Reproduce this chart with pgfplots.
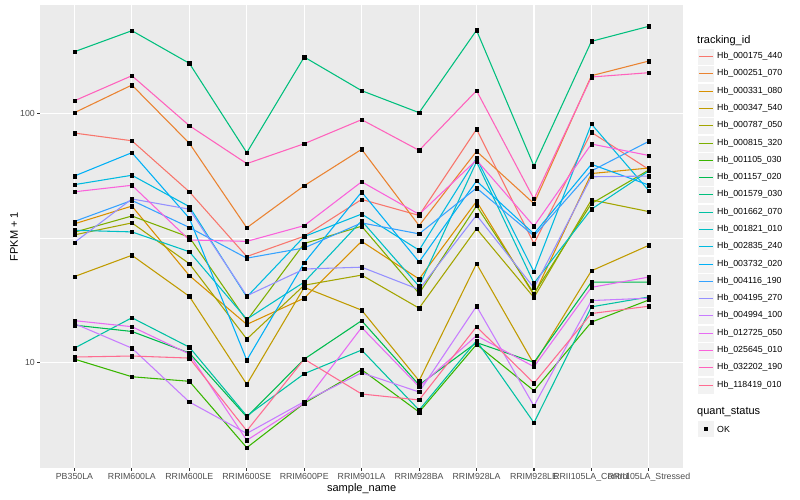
\documentclass[border=0pt]{standalone}
\usepackage{pgfplots}
\usepackage{pgfplotstable}
\usepackage{fontspec}
\setmainfont{Liberation Sans}
\pgfplotsset{compat=1.18}

% ggplot2 hue palette, 20 levels
\definecolor{c1}{HTML}{F8766D}
\definecolor{c2}{HTML}{EA8331}
\definecolor{c3}{HTML}{D89000}
\definecolor{c4}{HTML}{C09B00}
\definecolor{c5}{HTML}{A3A500}
\definecolor{c6}{HTML}{7CAE00}
\definecolor{c7}{HTML}{39B600}
\definecolor{c8}{HTML}{00BB4E}
\definecolor{c9}{HTML}{00BF7D}
\definecolor{c10}{HTML}{00C1A3}
\definecolor{c11}{HTML}{00BFC4}
\definecolor{c12}{HTML}{00BAE0}
\definecolor{c13}{HTML}{00B0F6}
\definecolor{c14}{HTML}{35A2FF}
\definecolor{c15}{HTML}{9590FF}
\definecolor{c16}{HTML}{C77CFF}
\definecolor{c17}{HTML}{E76BF3}
\definecolor{c18}{HTML}{FA62DB}
\definecolor{c19}{HTML}{FF62BC}
\definecolor{c20}{HTML}{FF6C91}
\definecolor{panel}{HTML}{EBEBEB}
\definecolor{keybg}{HTML}{F2F2F2}
\definecolor{tk}{HTML}{333333}
\definecolor{lab}{HTML}{4D4D4D}

\newcommand{\smallfnt}{\fontsize{8.8bp}{10bp}\selectfont}
\newcommand{\bigfnt}{\fontsize{11bp}{13bp}\selectfont}

% FPKM + 1 per sample (rows) and tracking_id (columns s1..s20)
\pgfplotstableread{
x  s1   s2    s3   s4   s5   s6   s7   s8   s9    s10  s11  s12  s13  s14  s15  s16  s17  s18  s19   s20
0  83.3 100.6 36.0 22.1 32.5 33.3 10.3 14.1 176.8 11.4 33.9 51.7 56.0 36.8 30.3 14.3 14.7 48.4 112.3 10.5
1  77.6 129.9 42.4 26.9 36.3 38.7 8.75 13.3 214.7 15.1 33.4 56.4 69.5 44.7 45.3 11.4 13.9 51.4 141.6 10.6
2  48.4 75.8  22.3 18.4 24.9 31.8 8.39 10.9 158.8 11.5 27.8 42.2 37.9 34.8 41.2 6.93 10.8 31.0 89.2  10.4
3  26.6 34.7  14.2 8.16 12.4 14.7 4.54 6.03 69.5  6.09 14.9 18.3 10.2 26.2 18.5 5.18 4.86 30.6 62.8  5.31
4  32.1 51.2  18.1 20.0 20.4 30.0 6.85 10.3 168.3 9.00 21.0 32.0 25.1 28.8 23.7 6.95 6.85 35.4 75.5  10.3
5  45.1 71.7  30.6 16.2 22.4 35.2 9.34 14.7 123.3 11.2 37.0 39.4 48.3 36.3 24.1 9.08 13.8 53.1 94.3  7.46
6  38.9 35.4  21.6 8.43 16.5 18.9 6.31 8.11 100.6 6.43 20.2 28.2 25.3 32.8 19.6 7.60 7.98 39.3 71.0  7.06
7  86.3 70.4  44.3 24.9 34.4 42.5 11.8 12.0 215.5 12.2 63.9 66.0 53.5 50.1 39.0 16.8 12.8 64.9 123.3 13.9
8  30.0 43.4  18.6 9.84 18.2 18.9 7.69 10.0 61.4  5.72 20.8 23.1 32.8 32.2 19.9 6.68 9.60 35.2 45.3  8.24
9  83.9 141.6 57.3 23.3 44.9 43.4 14.5 21.0 194.6 16.7 41.2 90.6 62.4 58.7 55.6 17.7 20.0 75.3 139.9 15.7
10 59.5 162.2 60.3 29.5 40.3 59.2 17.8 21.0 223.6 18.3 58.7 48.9 51.5 77.2 56.0 18.1 22.0 67.7 145.6 16.8
}\data

\begin{document}
\begin{tikzpicture}
\useasboundingbox (0,0) rectangle (800bp,500bp);
\begin{axis}[
    at={(40bp,32bp)}, anchor=south west,
    scale only axis, width=643.3bp, height=463bp,
    xmin=-0.6, xmax=10.6,
    ymode=log, ymin=3.763, ymax=272.3,
    axis background/.style={fill=panel},
    axis line style={draw=none},
    xtick={0,...,10},
    xticklabels={PB350LA, RRIM600LA, RRIM600LE, RRIM600SE, RRIM600PE, RRIM901LA,
        RRIM928BA, RRIM928LA, RRIM928LE, RRII105LA\_Control, RRII105LA\_Stressed},
    ytick={10,100}, yticklabels={10,100},
    minor ytick={31.62},
    xmajorgrids=true, ymajorgrids=true, yminorgrids=true,
    major grid style={white, line width=1.07bp},
    minor grid style={white, line width=0.53bp},
    tick align=outside, tick pos=left,
    major tick length=2.74bp, minor tick length=0pt,
    tick style={color=tk, line width=1.07bp},
    ticklabel style={font=\smallfnt, text=lab},
    xticklabel style={inner sep=2bp},
    yticklabel style={inner sep=2.2bp},
    /pgf/number format/assume math mode=true,
]
\pgfplotsinvokeforeach{1,...,20}{
    \addplot[c#1, line width=1.07bp, mark=none] table[x=x, y=s#1]{\data};
}
\pgfplotsinvokeforeach{1,...,20}{
    \addplot[only marks, mark=square*, mark size=1.7bp, black] table[x=x, y=s#1]{\data};
}
\end{axis}

% axis titles
\node[font=\bigfnt, rotate=90] at (14bp,263.5bp) {FPKM + 1};
\node[font=\bigfnt] at (361.65bp,11bp) {sample\_name};

% legend: tracking_id
\node[font=\bigfnt, anchor=west, inner sep=0] at (697bp,459.5bp) {tracking\_id};
\foreach \col/\name [count=\i from 0] in {
    c1/Hb\_000175\_440, c2/Hb\_000251\_070, c3/Hb\_000331\_080, c4/Hb\_000347\_540,
    c5/Hb\_000787\_050, c6/Hb\_000815\_320, c7/Hb\_001105\_030, c8/Hb\_001157\_020,
    c9/Hb\_001579\_030, c10/Hb\_001662\_070, c11/Hb\_001821\_010, c12/Hb\_002835\_240,
    c13/Hb\_003732\_020, c14/Hb\_004116\_190, c15/Hb\_004195\_270, c16/Hb\_004994\_100,
    c17/Hb\_012725\_050, c18/Hb\_025645\_010, c19/Hb\_032202\_190, c20/Hb\_118419\_010} {
    \pgfmathsetmacro{\yc}{round(500-57.2-17.28*\i)+0.5}
    \fill[keybg, draw=white, line width=0.5bp] (697.3bp,\yc bp-8.64bp) rectangle (714.58bp,\yc bp+8.64bp);
    \draw[\col, line width=1.07bp] (699bp,\yc bp) -- (712.9bp,\yc bp);
    \node[font=\smallfnt, anchor=west, inner sep=0] at (717bp,\yc bp) {\name};
}

% legend: quant_status
\node[font=\bigfnt, anchor=west, inner sep=0] at (697bp,88bp) {quant\_status};
\fill[keybg, draw=white, line width=0.5bp] (697.3bp,62.36bp) rectangle (714.58bp,79.64bp);
\fill[black] (704.14bp,69.2bp) rectangle (707.74bp,72.8bp);
\node[font=\smallfnt, anchor=west, inner sep=0] at (717bp,71bp) {OK};
\end{tikzpicture}
\end{document}
